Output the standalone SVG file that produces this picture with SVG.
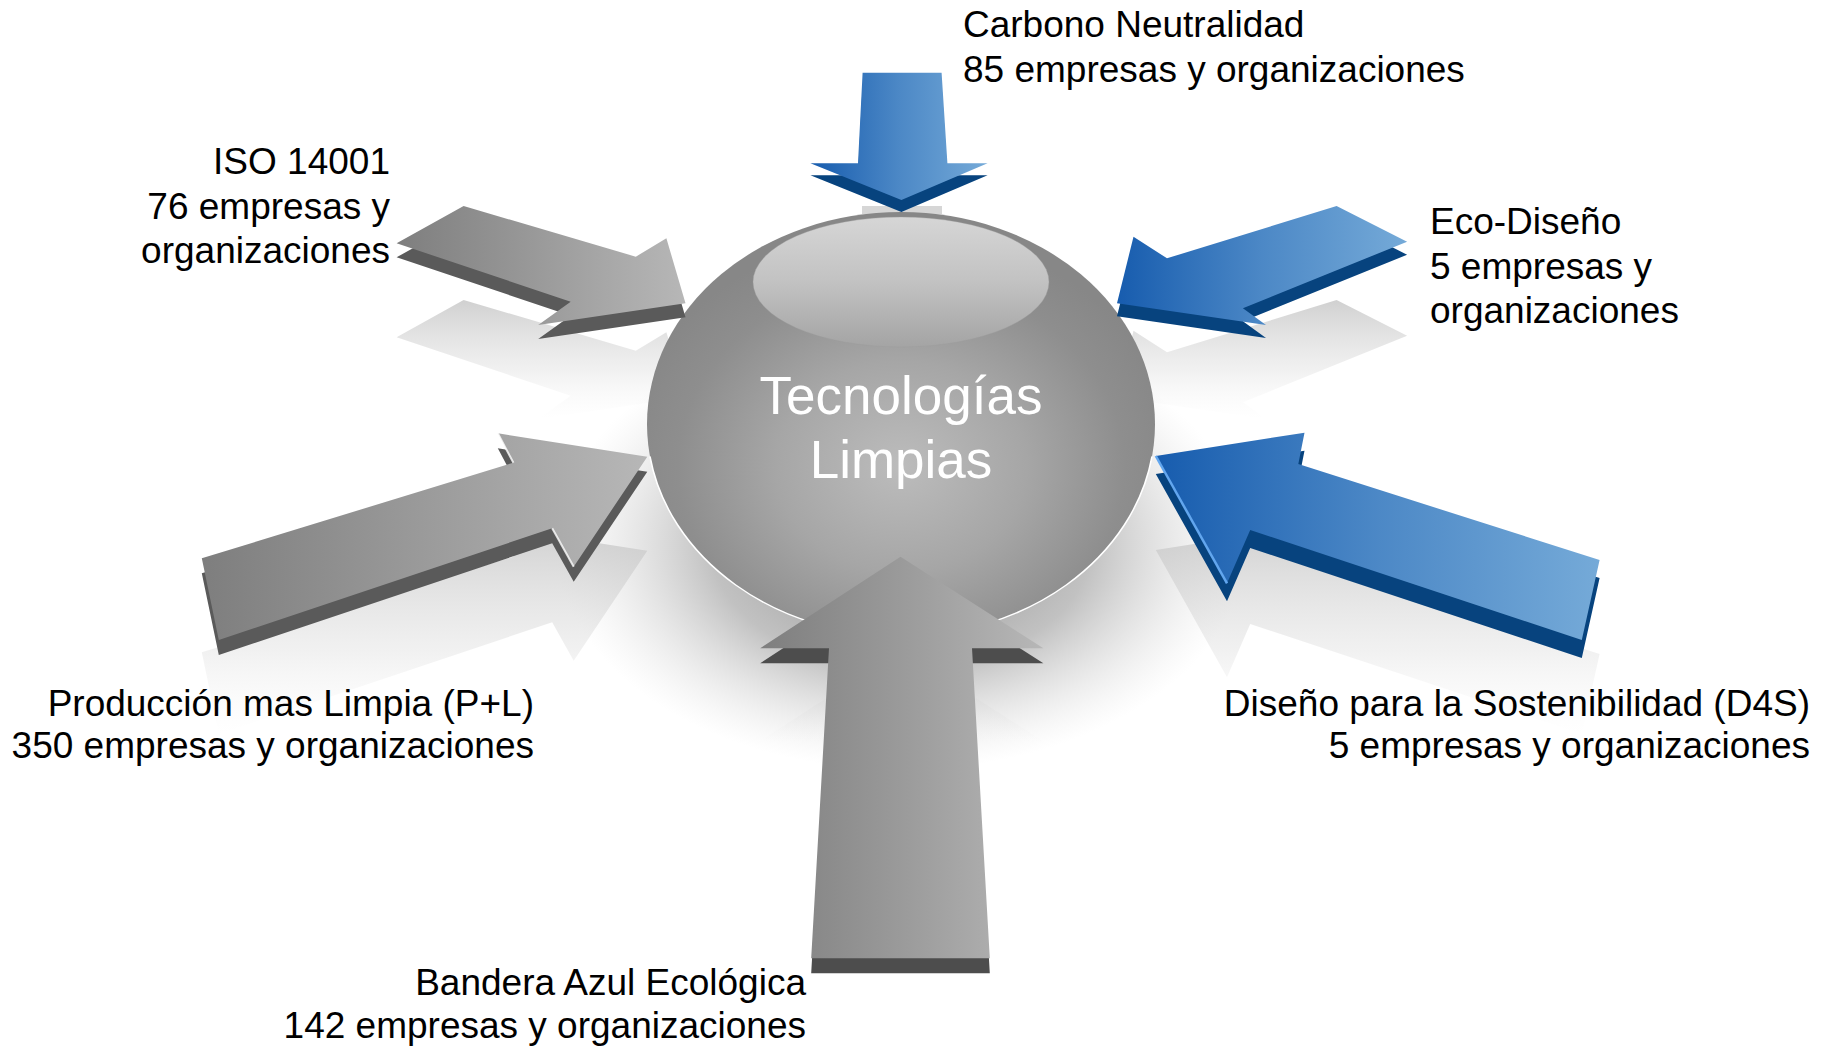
<svg xmlns="http://www.w3.org/2000/svg" width="1828" height="1047" viewBox="0 0 1828 1047">
<style>
.lbl{font-family:"Liberation Sans",Arial,sans-serif;font-size:37px;fill:#000}
.ctr{font-family:"Liberation Sans",Arial,sans-serif;font-size:53px;fill:#fff}
.gface{fill:url(#gface)}
.bface{fill:url(#bface)}
.gside{fill:#5a5a5a}
.gside2{fill:#4d4d4d}
.bside{fill:#07437e}
.refl{fill:url(#refl)}
</style>
<defs>
<linearGradient id="gface" x1="0" y1="0" x2="1" y2="0">
<stop offset="0" stop-color="#7e7e7e"/><stop offset="1" stop-color="#b7b7b7"/>
</linearGradient>
<linearGradient id="bface" x1="0" y1="0" x2="1" y2="0">
<stop offset="0" stop-color="#175cae"/><stop offset="0.5" stop-color="#4c88c6"/><stop offset="1" stop-color="#75aad8"/>
</linearGradient>
<linearGradient id="refl" x1="0" y1="0" x2="0" y2="1">
<stop offset="0" stop-color="#c8c8c8" stop-opacity="0.85"/><stop offset="0.6" stop-color="#dcdcdc" stop-opacity="0.4"/><stop offset="1" stop-color="#f0f0f0" stop-opacity="0"/>
</linearGradient>
<radialGradient id="shadow" cx="0.5" cy="0.5" r="0.5">
<stop offset="0" stop-color="#858585" stop-opacity="1"/><stop offset="0.55" stop-color="#a0a0a0" stop-opacity="0.65"/><stop offset="1" stop-color="#d0d0d0" stop-opacity="0"/>
</radialGradient>
<radialGradient id="sph" cx="0.5" cy="0.6" r="0.55">
<stop offset="0" stop-color="#bcbcbc"/><stop offset="0.45" stop-color="#a6a6a6"/><stop offset="0.8" stop-color="#8e8e8e"/><stop offset="1" stop-color="#878787"/>
</radialGradient>
<linearGradient id="hl" x1="0" y1="0" x2="0" y2="1">
<stop offset="0" stop-color="#d6d6d6"/><stop offset="0.5" stop-color="#c2c2c2"/><stop offset="1" stop-color="#a4a4a4"/>
</linearGradient>
</defs>

<g id="background">
<ellipse cx="901" cy="545" rx="345" ry="225" fill="url(#shadow)"/>
<polygon class="refl" transform="translate(0,94)" points="463.6,206 635.8,256.7 666.4,238.3 685.5,303.3 538.2,325 570.7,301.7 396.6,243.3"/>
<polygon class="refl" transform="translate(0,94)" points="1336.6,206 1407.1,241.7 1242.9,308.3 1266,325 1117,303.3 1133.5,236.7 1167,258.3"/>
<polygon class="refl" transform="translate(0,94)" points="201.8,558.3 513.4,462.7 497.8,433.3 647.3,456.7 573.7,566.7 552.2,528.3 218.8,640"/>
<polygon class="refl" transform="translate(0,94)" points="1155.8,456 1304.5,432.7 1298.3,464 1599.6,560 1581.8,640 1250.2,530 1227,583.3"/>
<polygon class="refl" points="760.2,741.3 900.5,649.7 1043.4,741.3"/>
<rect x="862" y="206" width="80" height="8" fill="#d6d6d6"/>
</g>

<g id="node-center">
<ellipse cx="901" cy="424" rx="254" ry="212" fill="url(#sph)"/>
<ellipse cx="901" cy="282" rx="148" ry="65" fill="url(#hl)" stroke="#9c9c9c" stroke-width="1" stroke-opacity="0.35"/>
<path d="M650,456.5 A254,212 0 0 0 1152,456.5" fill="none" stroke="#fff" stroke-width="1.5"/>
<text class="ctr" x="901" y="414" text-anchor="middle">Tecnologías</text>
<text class="ctr" x="901" y="478" text-anchor="middle">Limpias</text>
</g>

<g id="connectors">
<g id="arrow-carbono">
<polygon class="bside" transform="translate(0,12)" points="862.6,72.7 941.6,72.7 947.4,163.3 987.6,163.3 901.4,200 810.4,163.3 858,163.3"/>
<polygon class="bface" points="862.6,72.7 941.6,72.7 947.4,163.3 987.6,163.3 901.4,200 810.4,163.3 858,163.3"/>
</g>
<g id="arrow-iso">
<polygon class="gside" transform="translate(0,14)" points="463.6,206 635.8,256.7 666.4,238.3 685.5,303.3 538.2,325 570.7,301.7 396.6,243.3"/>
<polygon class="gface" points="463.6,206 635.8,256.7 666.4,238.3 685.5,303.3 538.2,325 570.7,301.7 396.6,243.3"/>
</g>
<g id="arrow-eco">
<polygon class="bside" transform="translate(0,13)" points="1336.6,206 1407.1,241.7 1242.9,308.3 1266,325 1117,303.3 1133.5,236.7 1167,258.3"/>
<polygon class="bface" points="1336.6,206 1407.1,241.7 1242.9,308.3 1266,325 1117,303.3 1133.5,236.7 1167,258.3"/>
</g>
<g id="arrow-pl">
<polygon class="gside" transform="translate(0,15)" points="201.8,558.3 513.4,462.7 497.8,433.3 647.3,456.7 573.7,566.7 552.2,528.3 218.8,640"/>
<polygon class="gface" points="201.8,558.3 513.4,462.7 497.8,433.3 647.3,456.7 573.7,566.7 552.2,528.3 218.8,640"/>
<polyline points="513.4,462.7 497.8,433.3" fill="none" stroke="#fff" stroke-width="2" opacity="0.8"/>
<polyline points="552.2,528.3 573.7,566.7" fill="none" stroke="#fff" stroke-width="2" opacity="0.8"/>
</g>
<g id="arrow-d4s">
<polygon class="bside" transform="translate(0,18)" points="1155.8,456 1304.5,432.7 1298.3,464 1599.6,560 1581.8,640 1250.2,530 1227,583.3"/>
<polygon class="bface" points="1155.8,456 1304.5,432.7 1298.3,464 1599.6,560 1581.8,640 1250.2,530 1227,583.3"/>
<polyline points="1155.8,456 1227,583.3" fill="none" stroke="#62a6ee" stroke-width="2.5"/>
</g>
<g id="arrow-bandera">
<polygon class="gside2" transform="translate(0,15)" points="900.5,556.7 1043.4,648.3 972,648.3 989.8,958.3 811.2,958.3 829,648.3 760.2,648.3"/>
<polygon class="gface" points="900.5,556.7 1043.4,648.3 972,648.3 989.8,958.3 811.2,958.3 829,648.3 760.2,648.3"/>
</g>
</g>

<g id="node-carbono">
<text class="lbl" x="963" y="37">Carbono Neutralidad</text>
<text class="lbl" x="963" y="82">85 empresas y organizaciones</text>
</g>
<g id="node-iso" text-anchor="end">
<text class="lbl" x="390" y="174">ISO 14001</text>
<text class="lbl" x="390" y="219">76 empresas y</text>
<text class="lbl" x="390" y="263">organizaciones</text>
</g>
<g id="node-eco">
<text class="lbl" x="1430" y="234">Eco-Diseño</text>
<text class="lbl" x="1430" y="279">5 empresas y</text>
<text class="lbl" x="1430" y="323">organizaciones</text>
</g>
<g id="node-pl" text-anchor="end">
<text class="lbl" x="534" y="716">Producción mas Limpia (P+L)</text>
<text class="lbl" x="534" y="758">350 empresas y organizaciones</text>
</g>
<g id="node-d4s" text-anchor="end">
<text class="lbl" x="1810" y="716">Diseño para la Sostenibilidad (D4S)</text>
<text class="lbl" x="1810" y="758">5 empresas y organizaciones</text>
</g>
<g id="node-bandera" text-anchor="end">
<text class="lbl" x="806" y="995">Bandera Azul Ecológica</text>
<text class="lbl" x="806" y="1038">142 empresas y organizaciones</text>
</g>
</svg>
